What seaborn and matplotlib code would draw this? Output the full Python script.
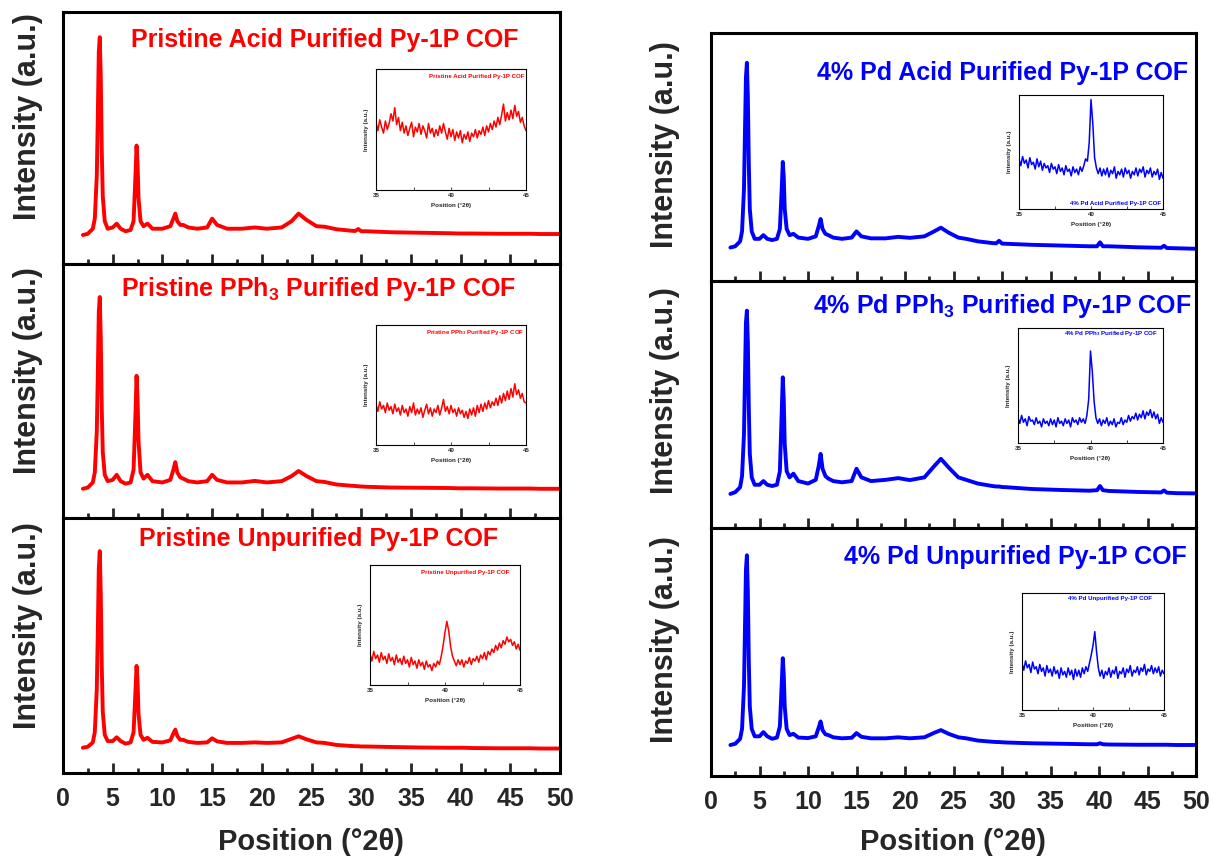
import numpy as np
import matplotlib
matplotlib.use("Agg")
import matplotlib.pyplot as plt
from matplotlib.ticker import MultipleLocator
import seaborn as sns

# ---- data (intensity in arbitrary units) ----
X_MAIN = [2.0, 2.5, 3.0, 3.2, 3.4, 3.5, 3.6, 3.7, 3.8, 3.9,
          4.0, 4.2, 4.5, 5.0, 5.4, 5.8, 6.3, 6.8, 7.1, 7.3,
          7.4, 7.5, 7.6, 7.8, 8.1, 8.5, 9.0, 10.0, 10.8, 11.1,
          11.3, 11.5, 11.8, 12.1, 12.6, 13.5, 14.5, 15.0, 15.5, 16.5,
          18.0, 19.3, 20.5, 22.0, 23.0, 23.7, 24.5, 25.5, 26.3, 27.5,
          29.0, 29.4, 29.7, 30.0, 30.5, 33.0, 36.0, 39.0, 39.8, 40.1,
          40.4, 41.0, 44.0, 46.4, 46.7, 47.0, 48.0, 50.0]

PRISTINE_ACID = [11.5, 12.0, 14, 18, 35, 58, 84, 90, 74, 45,
                 27, 17, 14, 14.5, 16, 14, 13, 13.5, 17, 36,
                 47, 40, 26, 17, 15, 16, 14, 14, 15, 18,
                 20, 17, 15.5, 15.5, 14.5, 14, 14.5, 18, 15.5, 14,
                 14, 14.5, 14, 14.5, 17, 20, 17.5, 15, 14.8, 13.8,
                 13.2, 13.1, 13.9, 13.0, 13, 12.6, 12.4, 12.2, 12.1, 12.1,
                 12.1, 12.1, 12, 12, 12, 12, 11.9, 11.9]

PRISTINE_PPH3 = [11.5, 12, 14, 18, 34, 56, 81, 87, 71, 43,
                 26, 17, 14.5, 15, 17, 14.5, 13.5, 14, 19, 42,
                 56, 47, 30, 18, 15.5, 17, 14.5, 14, 15, 19,
                 22, 18, 16, 15.5, 14.5, 14, 14.5, 17, 15, 14,
                 14, 14.6, 14, 14.5, 16.5, 18.5, 16.5, 14.5, 14.2, 13.2,
                 12.7, 12.6, 12.5, 12.4, 12.3, 12, 11.9, 11.8, 11.7, 11.7,
                 11.7, 11.7, 11.6, 11.6, 11.6, 11.6, 11.5, 11.5]

PRISTINE_UNPUR = [9.9, 10.3, 12, 16, 33, 55, 80, 87, 70, 42,
                  24, 15, 12.5, 12.5, 14, 12.5, 11.5, 12, 16, 33,
                  42, 36, 23, 15, 13, 13.8, 12.2, 12, 12.8, 15.5,
                  17, 14.5, 13, 13, 12.2, 11.8, 12, 13.6, 12.4, 11.8,
                  11.8, 12, 11.8, 12, 13.4, 14.4, 13.2, 12, 11.8, 11,
                  10.6, 10.5, 10.5, 10.4, 10.4, 10.2, 10, 9.9, 9.9, 9.9,
                  9.9, 9.8, 9.7, 9.7, 9.7, 9.7, 9.6, 9.6]

PD_ACID = [13.5, 14, 16, 20, 37, 60, 82, 88, 74, 47,
           29, 20, 17, 17, 18.5, 17, 16.5, 17, 21, 38,
           48, 42, 29, 21, 18.5, 19, 17.5, 17, 18, 22,
           25, 21, 19, 18.5, 17.5, 17, 17.5, 20, 18, 17.2,
           17.2, 17.8, 17.4, 18, 20, 21.5, 19.5, 17.5, 17, 16,
           15.3, 15.2, 16.2, 15.1, 15, 14.6, 14.3, 14, 14, 15.6,
           14, 14, 13.6, 13.4, 14.2, 13.3, 13.2, 13]

PD_PPH3 = [13.8, 14.5, 16.5, 21, 38, 61, 83, 88, 75, 48,
           30, 20.5, 17.5, 17.5, 19, 17.5, 17, 17.5, 23, 48,
           61, 52, 34, 23, 20.5, 22, 19, 18, 19.5, 25,
           30, 24, 21, 20, 19, 18.5, 19, 24, 20.5, 19,
           19.5, 20.2, 19.4, 20.5, 25, 28, 24.5, 20.5, 19.5, 18,
           17, 16.8, 16.8, 16.6, 16.5, 15.8, 15.4, 15.1, 15.3, 17,
           15.3, 15, 14.6, 14.4, 15.2, 14.3, 14.1, 14]

PD_UNPUR = [12.5, 13, 15, 19, 36, 59, 83, 89, 74, 46,
            28, 19, 16, 16, 17.7, 16, 15, 15.5, 20, 38,
            47.5, 41, 28, 19, 16.5, 17, 15.5, 15.3, 16, 19.5,
            22, 18.5, 16.8, 16.5, 15.6, 15.2, 15.4, 17.3, 15.8, 15.2,
            15.2, 15.6, 15.2, 15.6, 17.4, 18.5, 17, 15.6, 15.2, 14.3,
            13.8, 13.7, 13.7, 13.6, 13.5, 13.2, 13, 12.8, 12.8, 13.2,
            12.8, 12.7, 12.6, 12.6, 12.6, 12.6, 12.5, 12.5]

# zoomed 35-45 deg scans for the insets (81 points, 0.125 deg step)
X_INSET = np.linspace(35, 45, 81)

INSET_PRISTINE_ACID = [56, 49, 58, 52, 47, 57, 50, 55,
                       63, 57, 68, 54, 60, 49, 56, 47,
                       53, 45, 51, 56, 44, 52, 48, 55,
                       46, 53, 49, 43, 55, 47, 51, 44,
                       50, 45, 53, 47, 55, 48, 42, 51,
                       44, 50, 41, 48, 43, 49, 39, 46,
                       42, 48, 40, 47, 44, 50, 43, 49,
                       46, 52, 45, 53, 48, 55, 50, 57,
                       52, 60, 54, 62, 71, 57, 64, 58,
                       66, 59, 70, 61, 65, 56, 60, 53,
                       49]

INSET_PD_ACID = [44, 38, 46, 40, 43, 36, 45, 39,
                 41, 35, 44, 37, 42, 34, 40, 36,
                 38, 32, 40, 35, 37, 31, 39, 33,
                 36, 30, 38, 33, 35, 29, 37, 32,
                 35, 30, 37, 33, 38, 44, 42, 58,
                 96, 75, 45, 36, 31, 36, 29, 35,
                 30, 36, 28, 34, 31, 37, 27, 33,
                 30, 35, 28, 36, 31, 34, 27, 33,
                 30, 36, 29, 35, 32, 37, 28, 34,
                 31, 36, 28, 33, 30, 35, 26, 32,
                 27]

INSET_PRISTINE_PPH3 = [34, 28, 36, 30, 33, 27, 35, 29,
                       32, 26, 34, 28, 31, 25, 33, 27,
                       30, 24, 32, 27, 35, 25, 30, 26,
                       31, 23, 29, 34, 26, 31, 24, 30,
                       27, 33, 25, 31, 38, 28, 32, 26,
                       33, 27, 30, 24, 31, 26, 29, 23,
                       28, 22, 30, 25, 31, 24, 33, 27,
                       34, 28, 35, 30, 37, 31, 36, 33,
                       39, 33, 41, 35, 43, 37, 45, 38,
                       47, 40, 51, 42, 46, 39, 43, 36,
                       35]

INSET_PD_PPH3 = [22, 17, 24, 18, 21, 15, 23, 19,
                 20, 16, 22, 17, 19, 14, 21, 17,
                 19, 15, 21, 16, 20, 14, 22, 17,
                 19, 15, 21, 17, 20, 14, 22, 18,
                 20, 16, 22, 18, 21, 17, 24, 38,
                 80, 62, 36, 22, 17, 21, 15, 20,
                 17, 22, 15, 19, 16, 21, 14, 18,
                 17, 22, 16, 20, 18, 24, 19, 23,
                 21, 26, 20, 25, 22, 28, 21, 27,
                 24, 29, 22, 27, 21, 25, 17, 22,
                 18]

INSET_PRISTINE_UNPUR = [26, 20, 28, 22, 25, 19, 27, 21,
                        24, 18, 26, 20, 23, 17, 25, 19,
                        22, 17, 24, 18, 21, 15, 23, 17,
                        20, 14, 21, 16, 19, 13, 20, 15,
                        17, 12, 18, 15, 20, 17, 24, 33,
                        44, 53, 45, 32, 24, 20, 16, 21,
                        17, 21, 15, 20, 18, 23, 17, 22,
                        20, 24, 19, 25, 22, 27, 21, 28,
                        25, 30, 27, 33, 29, 35, 31, 37,
                        34, 40, 36, 38, 33, 36, 30, 34,
                        29]

INSET_PD_UNPUR = [40, 34, 42, 36, 39, 32, 41, 35,
                  37, 31, 39, 33, 36, 29, 38, 32,
                  35, 29, 37, 31, 34, 27, 36, 30,
                  33, 28, 36, 30, 34, 26, 35, 29,
                  34, 28, 36, 31, 37, 33, 40, 47,
                  55, 67, 50, 36, 29, 34, 27, 33,
                  30, 36, 28, 34, 31, 37, 27, 33,
                  31, 36, 28, 35, 32, 38, 29, 34,
                  32, 37, 30, 36, 33, 39, 30, 35,
                  33, 38, 31, 36, 32, 37, 29, 34,
                  31]

TITLES = ["Pristine Acid Purified Py-1P COF",
          r"Pristine PPh$_\mathbf{3}$ Purified Py-1P COF",
          "Pristine Unpurified Py-1P COF",
          "4% Pd Acid Purified Py-1P COF",
          r"4% Pd PPh$_\mathbf{3}$ Purified Py-1P COF",
          "4% Pd Unpurified Py-1P COF"]

MAIN_Y = [PRISTINE_ACID, PRISTINE_PPH3, PRISTINE_UNPUR, PD_ACID, PD_PPH3, PD_UNPUR]
INSET_Y = [INSET_PRISTINE_ACID, INSET_PRISTINE_PPH3, INSET_PRISTINE_UNPUR,
           INSET_PD_ACID, INSET_PD_PPH3, INSET_PD_UNPUR]
COLORS = ["#ff0000"] * 3 + ["#0000ff"] * 3

# ---- style ----
sns.set_style("ticks")
plt.rcParams["font.family"] = ["Liberation Sans", "DejaVu Sans"]
plt.rcParams["font.weight"] = "bold"
plt.rcParams["mathtext.fontset"] = "custom"
plt.rcParams["mathtext.rm"] = "Liberation Sans"
plt.rcParams["mathtext.bf"] = "Liberation Sans:bold"

W, H = 1214, 859
fig = plt.figure(figsize=(W / 100, H / 100), dpi=100)


def rect(x0, y0, x1, y1):
    return [x0 / W, 1 - y1 / H, (x1 - x0) / W, (y1 - y0) / H]


# panel boxes in pixels (x0, y0, x1, y1)
PANELS = [(63, 12, 560, 264), (63, 264, 560, 518), (63, 518, 560, 773),
          (711, 33, 1196, 281), (711, 281, 1196, 528), (711, 528, 1196, 776)]
INSETS = [(376, 69, 526, 190), (376, 325, 526, 445), (370, 565, 520, 685),
          (1019, 95, 1163, 209), (1018, 328, 1163, 443), (1022, 593, 1164, 710)]
# title anchor (x, y, ha)
TITLE_POS = [(325, 40, "center"), (319, 289, "center"), (319, 539, "center"),
             (1188, 73, "right"), (1191, 306, "right"), (1187, 557, "right")]
YLAB_POS = [(28, 117), (28, 371), (28, 626), (665, 145), (665, 391), (665, 640)]
# inset title: (x, y, va) in inset axes coords
INSET_TITLE = [(0.987, 0.94, "center"), (0.987, 0.94, "center"), (0.93, 0.94, "center"),
               (0.99, 0.03, "bottom"), (0.97, 0.955, "center"), (0.915, 0.95, "center")]

for i in range(6):
    ax = fig.add_axes(rect(*PANELS[i]))
    sns.lineplot(x=X_MAIN, y=MAIN_Y[i], ax=ax, color=COLORS[i], linewidth=2.8,
                 estimator=None, sort=False)
    ax.set_xlim(0, 50)
    ax.set_ylim(0, 100)
    ax.set_yticks([])
    ax.set_ylabel("")
    ax.xaxis.set_major_locator(MultipleLocator(5))
    ax.xaxis.set_minor_locator(MultipleLocator(2.5))
    ax.tick_params(axis="x", which="major", direction="in", length=7, width=2,
                   labelsize=18, pad=10)
    ax.tick_params(axis="x", which="minor", direction="in", length=3.5, width=2)
    for sp in ax.spines.values():
        sp.set_linewidth(2.2)
        sp.set_color("black")
    if i in (2, 5):
        for lab in ax.get_xticklabels():
            lab.set_fontweight("bold")
        ax.set_xlabel("Position (°2θ)", fontsize=21, fontweight="bold",
                      labelpad=12 if i == 2 else 10)
    else:
        ax.set_xticklabels([])
        ax.set_xlabel("")

    tx, ty, ha = TITLE_POS[i]
    fig.text(tx / W, 1 - ty / H, TITLES[i], color=COLORS[i], fontsize=18,
             fontweight="bold", ha=ha, va="center")
    yx, yy = YLAB_POS[i]
    fig.text(yx / W, 1 - yy / H, "Intensity (a.u.)", rotation=90, fontsize=22,
             fontweight="bold", ha="center", va="center")

    # inset
    ins = fig.add_axes(rect(*INSETS[i]))
    sns.lineplot(x=X_INSET, y=INSET_Y[i], ax=ins, color=COLORS[i], linewidth=1.1,
                 estimator=None, sort=False)
    ins.set_xlim(35, 45)
    ins.set_ylim(0, 100)
    ins.set_yticks([])
    ins.set_xticks([35, 40, 45])
    ins.xaxis.set_minor_locator(MultipleLocator(2.5))
    ins.tick_params(axis="x", which="both", direction="in", length=2, width=0.6,
                    labelsize=4.5, pad=2)
    for sp in ins.spines.values():
        sp.set_linewidth(0.8)
        sp.set_color("black")
    ins.set_xlabel("Position (°2θ)", fontsize=4.5, fontweight="bold", labelpad=4)
    ins.set_ylabel("Intensity (a.u.)", fontsize=4.5, fontweight="bold", labelpad=5)
    itx, ity, iva = INSET_TITLE[i]
    ins.text(itx, ity, TITLES[i], transform=ins.transAxes, color=COLORS[i],
             fontsize=4.4, fontweight="bold", ha="right", va=iva)

fig.savefig("out.png", dpi=100, facecolor="white")
